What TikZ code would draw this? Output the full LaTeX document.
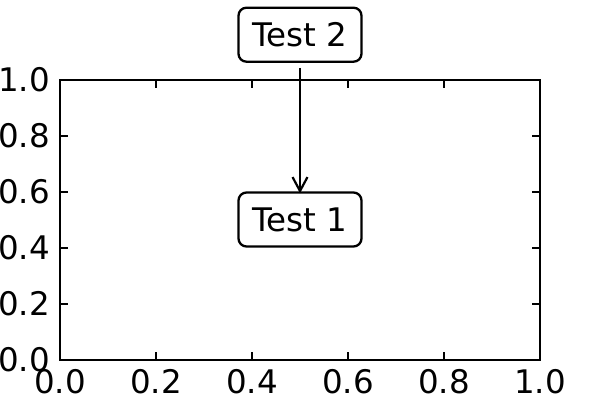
\documentclass[tikz,border=0pt]{standalone}
\usepackage{fontspec}
\setmainfont{DejaVu Sans}
\usetikzlibrary{arrows.meta,positioning}

\begin{document}
\begin{tikzpicture}[x=1pt,y=1pt,font=\fontsize{32.5}{38}\selectfont]
        \useasboundingbox (0,0) rectangle (600,400);
        % axes frame and ticks
        \foreach \v/\lab in {0/0.0,1/0.2,2/0.4,3/0.6,4/0.8,5/1.0}
          {
            \draw[line width=1.1pt] (60+96*\v,40)--++(0,8) (60+96*\v,320)--++(0,-8);
            \draw[line width=1.1pt] (60,40+56*\v)--++(8,0) (540,40+56*\v)--++(-8,0);
            \node[anchor=base,inner sep=0pt] (xl\v) at (60+96*\v,7) {\lab};
            \node[anchor=base east,inner sep=0pt] (yl\v) at (50,40+56*\v-11.5) {\lab};
          }
        \draw[line width=2.5pt] (60,40) rectangle (540,320);
        % annotation
        \node[draw,line width=2.3pt,rounded corners=8pt,minimum width=123pt,
          minimum height=54pt,inner sep=0pt,fill=white] (test1) at (300,180.5) {Test 1};
        \node[draw,line width=2.3pt,rounded corners=8pt,minimum width=123pt,
          minimum height=54pt,inner sep=0pt,fill=white] (test2) at (300,365.3) {Test 2};
        \draw[line width=2.2pt,-{Straight Barb[length=14pt,width=15pt,line width=2.2pt]},
          shorten <=5pt,shorten >=-2pt] (test2) -- (test1);
      \end{tikzpicture}
\end{document}
